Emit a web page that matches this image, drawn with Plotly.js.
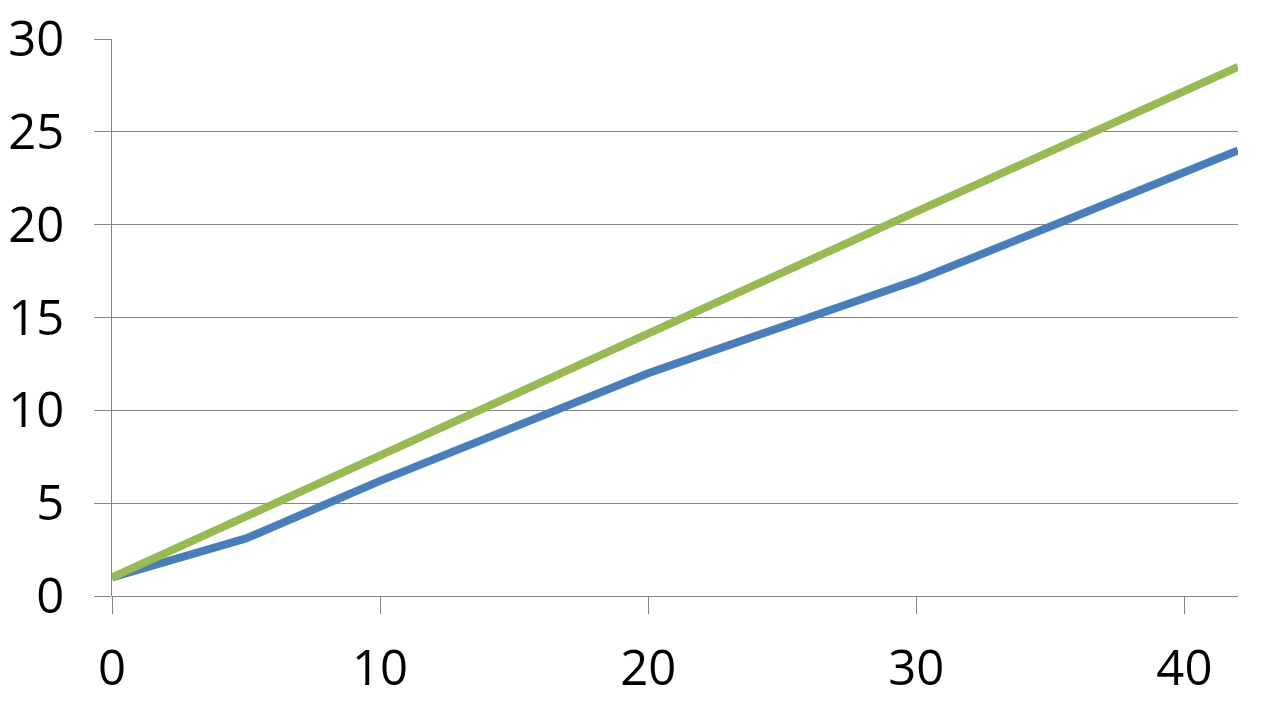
<!DOCTYPE html>
<html>
<head>
<meta charset="utf-8">
<script src="https://cdn.plot.ly/plotly-3.0.1.min.js"></script>
<style>
  html, body { margin: 0; padding: 0; background: #fff; }
  #chart { width: 1279px; height: 704px; }
</style>
</head>
<body>
<div id="chart"></div>
<script>
// values
var blueX = [0, 5, 10, 15, 20, 25, 30, 35, 40, 42];
var blueY = [1, 3.1, 6.2, 9.1, 12, 14.5, 17, 19.9, 22.8, 24];

var greenX = [0, 10, 20, 30, 42];
var greenY = [1, 7.6, 14.1, 20.7, 28.5];

var xTicks = [0, 10, 20, 30, 40];
var yTicks = [0, 5, 10, 15, 20, 25, 30];

var traceBlue = {
  x: blueX,
  y: blueY,
  type: "scatter",
  mode: "lines",
  line: { color: "#4a7ebb", width: 8 },
  hoverinfo: "x+y"
};

var traceGreen = {
  x: greenX,
  y: greenY,
  type: "scatter",
  mode: "lines",
  line: { color: "#98b954", width: 8 },
  hoverinfo: "x+y"
};

var data = [traceBlue, traceGreen];

var layout = {
  width: 1279,
  height: 704,
  margin: { l: 112, r: 41, t: 39, b: 108 },
  showlegend: false,
  paper_bgcolor: "#fff",
  plot_bgcolor: "#fff",
  font: { family: "Open Sans, sans-serif", size: 49, color: "#000" },
  xaxis: {
    range: [0, 42],
    tickvals: xTicks,
    showgrid: false,
    zeroline: false,
    showline: false,
    ticks: "outside",
    ticklen: 17,
    tickcolor: "#868686",
    tickwidth: 1,
    ticklabelstandoff: 12
  },
  yaxis: {
    range: [0, 30],
    tickvals: yTicks,
    showgrid: true,
    gridcolor: "#868686",
    gridwidth: 1,
    zeroline: true,
    zerolinecolor: "#868686",
    zerolinewidth: 1,
    showline: true,
    linecolor: "#868686",
    linewidth: 1,
    ticks: "outside",
    ticklen: 17,
    tickcolor: "#868686",
    tickwidth: 1,
    ticklabelstandoff: 20
  }
};

Plotly.newPlot("chart", data, layout, { displayModeBar: false, staticPlot: true });
</script>
</body>
</html>
